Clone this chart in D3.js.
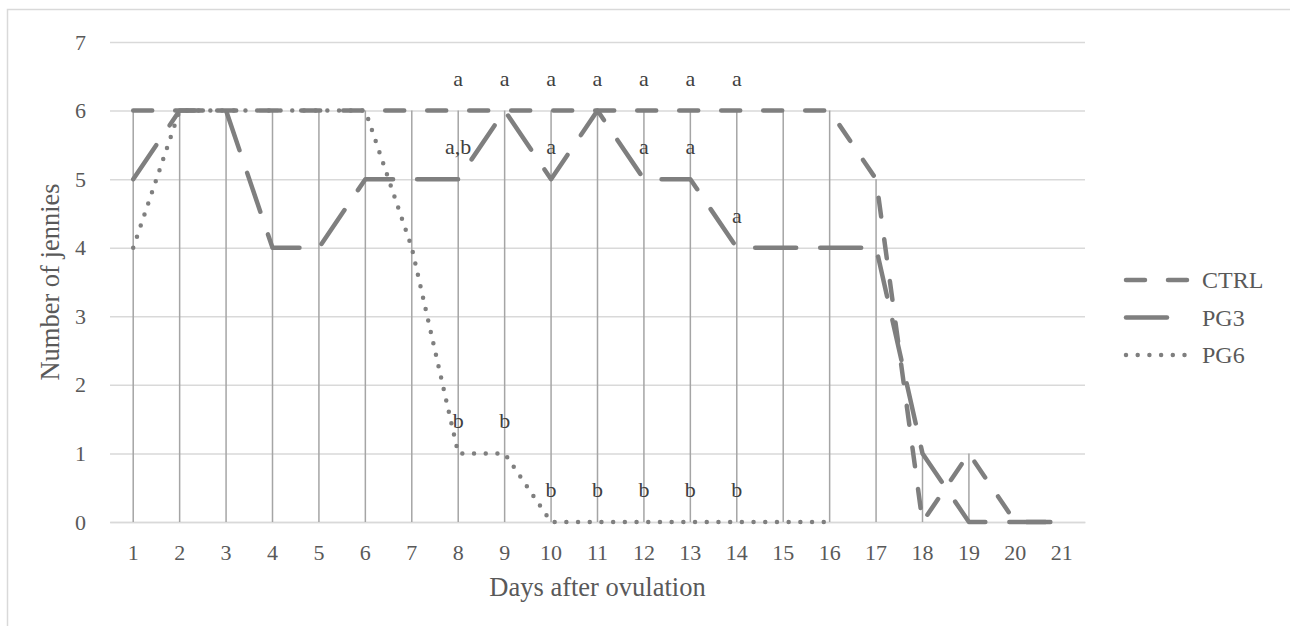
<!DOCTYPE html>
<html>
<head>
<meta charset="utf-8">
<script src="https://cdn.jsdelivr.net/npm/d3@7"></script>
<style>
  html, body { margin: 0; padding: 0; background: #fff; }
  svg { display: block; }
  text { font-family: "Liberation Serif", "Times New Roman", serif; }
</style>
</head>
<body>
<svg id="chart" width="1290" height="626"></svg>
<script>
// ---- data ----
const days = [1,2,3,4,5,6,7,8,9,10,11,12,13,14,15,16,17,18,19,20,21];
const ctrl = [6,6,6,6,6,6,6,6,6,6,6,6,6,6,6,6,5,0,1,0,0];
const pg3  = [5,6,6,4,4,5,5,5,6,5,6,5,5,4,4,4,4,1,0,0,0];
const pg6  = [4,6,6,6,6,6,4,1,1,0,0,0,0,0,0,0,null,null,null,null,null];
const ctrlLabels = [null,null,null,null,null,null,null,"a","a","a","a","a","a","a",null,null,null,null,null,null,null];
const pg3Labels  = [null,null,null,null,null,null,null,"a,b",null,"a",null,"a","a","a",null,null,null,null,null,null,null];
const pg6Labels  = [null,null,null,null,null,null,null,"b","b","b","b","b","b","b",null,null,null,null,null,null,null];
const yTicks = [0,1,2,3,4,5,6,7];
const seriesNames = ["CTRL","PG3","PG6"];

// ---- layout ----
const svg = d3.select("#chart");
const plot = {left: 110, right: 1085, top: 42, bottom: 522};
const lineColor = "#7f7f7f";
const dashes = {CTRL: "19 23", PG3: "41 24", PG6: "0 11.7"};
const tickFont = 22;

svg.append("rect").attr("x", 7.5).attr("y", 9.5).attr("width", 1300).attr("height", 700)
  .attr("fill", "#fff").attr("stroke", "#d9d9d9").attr("stroke-width", 1.5);

const x = d3.scaleBand().domain(days).range([plot.left, plot.right]);
const cx = d => x(d) + x.bandwidth() / 2;
const y = d3.scaleLinear().domain([0, 7]).range([plot.bottom, plot.top]);

// gridlines
const yAxis = d3.axisLeft(y).tickValues(yTicks).tickSize(-(plot.right - plot.left)).tickPadding(24).tickFormat(d3.format("d"));
const gy = svg.append("g").attr("transform", `translate(${plot.left},0)`).call(yAxis);
gy.select(".domain").remove();
gy.selectAll(".tick line").attr("stroke", "#d9d9d9").attr("stroke-width", 1.5);
gy.selectAll(".tick text").attr("fill", "#595959").attr("font-size", tickFont)
  .attr("font-family", "Liberation Serif, serif");

// x axis
const xAxis = d3.axisBottom(x).tickSize(0).tickPadding(22);
const gx = svg.append("g").attr("transform", `translate(0,${plot.bottom})`).call(xAxis);
gx.select(".domain").attr("stroke", "#d9d9d9").attr("stroke-width", 1.5);
gx.selectAll(".tick text").attr("fill", "#595959").attr("font-size", tickFont)
  .attr("font-family", "Liberation Serif, serif");

// drop lines
const maxes = days.map((d, i) => d3.max([ctrl[i], pg3[i], pg6[i]].filter(v => v != null)));
svg.append("g").selectAll("line").data(days.filter((d, i) => maxes[i] > 0)).join("line")
  .attr("x1", d => cx(d)).attr("x2", d => cx(d))
  .attr("y1", d => y(maxes[days.indexOf(d)])).attr("y2", y(0))
  .attr("stroke", "#a5a5a5").attr("stroke-width", 1.5);

// series lines
const line = d3.line().defined(d => d[1] != null).x(d => cx(d[0])).y(d => y(d[1]));
const seriesData = {CTRL: ctrl, PG3: pg3, PG6: pg6};
["PG6", "PG3", "CTRL"].forEach(name => {
  const vals = seriesData[name];
  svg.append("path")
    .datum(days.map((d, i) => [d, vals[i]]))
    .attr("d", line)
    .attr("fill", "none")
    .attr("stroke", lineColor)
    .attr("stroke-width", 4.5)
    .attr("stroke-linecap", "round")
    .attr("stroke-linejoin", "round")
    .attr("stroke-dasharray", dashes[name]);
});

// data labels
const labelSets = [[ctrl, ctrlLabels], [pg3, pg3Labels], [pg6, pg6Labels]];
const lg = svg.append("g");
labelSets.forEach(([vals, labs]) => {
  days.forEach((d, i) => {
    if (labs[i]) {
      lg.append("text").attr("x", cx(d)).attr("y", y(vals[i]) - 25)
        .attr("text-anchor", "middle").attr("font-size", 22).attr("fill", "#404040")
        .text(labs[i]);
    }
  });
});

// axis titles
svg.append("text").attr("x", (plot.left + plot.right) / 2).attr("y", 596)
  .attr("text-anchor", "middle").attr("font-size", 26.5).attr("fill", "#595959")
  .text("Days after ovulation");
svg.append("text").attr("transform", `translate(59,${(plot.top + plot.bottom) / 2}) rotate(-90)`)
  .attr("text-anchor", "middle").attr("font-size", 26.5).attr("fill", "#595959")
  .text("Number of jennies");

// legend
const legY = d3.scalePoint().domain(seriesNames).range([280, 355]);
const leg = svg.append("g");
seriesNames.forEach(name => {
  leg.append("line").attr("x1", 1126).attr("x2", 1190)
    .attr("y1", legY(name)).attr("y2", legY(name))
    .attr("stroke", lineColor).attr("stroke-width", 4.5)
    .attr("stroke-linecap", "round").attr("stroke-dasharray", dashes[name]);
  leg.append("text").attr("x", 1202).attr("y", legY(name)).attr("dy", "0.35em")
    .attr("font-size", 24).attr("fill", "#595959").text(name);
});
</script>
</body>
</html>
